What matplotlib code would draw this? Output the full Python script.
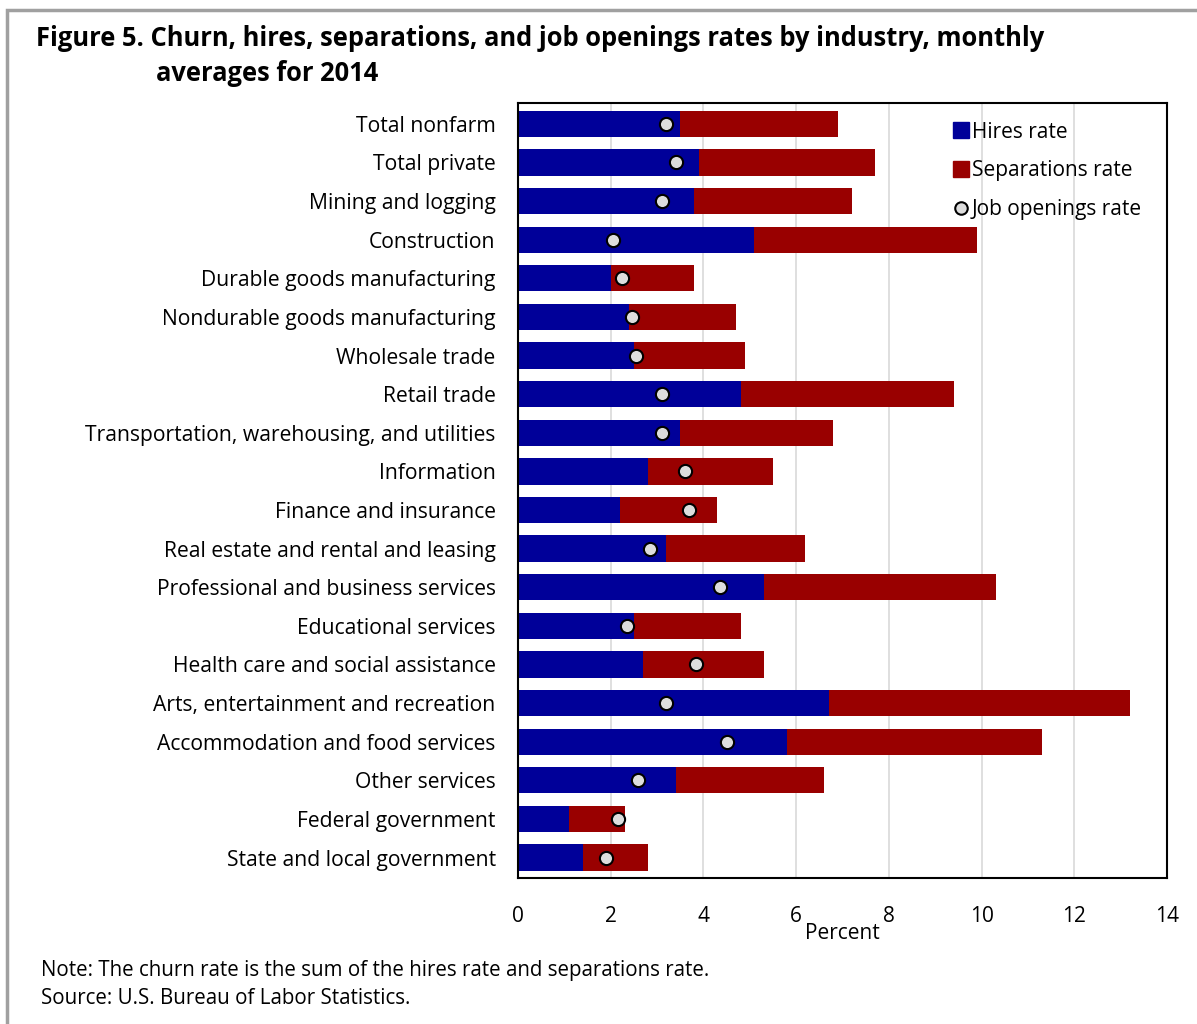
import matplotlib
matplotlib.use('Agg')
import matplotlib.pyplot as plt
from matplotlib.patches import Rectangle
from matplotlib.lines import Line2D
import numpy as np

industries = [
    'Total nonfarm', 'Total private', 'Mining and logging', 'Construction',
    'Durable goods manufacturing', 'Nondurable goods manufacturing',
    'Wholesale trade', 'Retail trade',
    'Transportation, warehousing, and utilities', 'Information',
    'Finance and insurance', 'Real estate and rental and leasing',
    'Professional and business services', 'Educational services',
    'Health care and social assistance', 'Arts, entertainment and recreation',
    'Accommodation and food services', 'Other services',
    'Federal government', 'State and local government',
]
hires = [3.5, 3.9, 3.8, 5.1, 2.0, 2.4, 2.5, 4.8, 3.5, 2.8,
         2.2, 3.2, 5.3, 2.5, 2.7, 6.7, 5.8, 3.4, 1.1, 1.4]
separations = [3.4, 3.8, 3.4, 4.8, 1.8, 2.3, 2.4, 4.6, 3.3, 2.7,
               2.1, 3.0, 5.0, 2.3, 2.6, 6.5, 5.5, 3.2, 1.2, 1.4]
openings = [3.2, 3.4, 3.1, 2.05, 2.25, 2.45, 2.55, 3.1, 3.1, 3.6,
            3.7, 2.85, 4.35, 2.35, 3.85, 3.2, 4.5, 2.6, 2.15, 1.9]

blue = '#000099'
red = '#990000'
plt.rcParams['font.family'] = ['Open Sans', 'DejaVu Sans']

fig = plt.figure(figsize=(11.97, 10.24), dpi=100)
fig.patches.append(Rectangle((0.006, -0.01), 1.1, 1.0, transform=fig.transFigure,
                             fill=False, edgecolor='#a0a0a0', linewidth=2.5))
ax = fig.add_axes([0.4327, 0.1426, 0.5423, 0.7568])

y = np.arange(len(industries))
ax.barh(y, hires, height=0.68, color=blue, label='Hires rate', zorder=2)
ax.barh(y, separations, left=hires, height=0.68, color=red,
        label='Separations rate', zorder=2)
ax.scatter(openings, y, s=90, facecolor='#dddddd', edgecolor='black',
           linewidth=1.5, zorder=3, label='Job openings rate')

ax.set_xlim(0, 14)
ax.set_ylim(len(industries) - 0.47, -0.54)
ax.set_xticks(np.arange(0, 15, 2))
ax.set_yticks(y)
ax.set_yticklabels(industries, fontsize=15.2)
ax.tick_params(axis='x', labelsize=15, length=0, pad=20)
ax.tick_params(axis='y', length=0, pad=16)
ax.grid(axis='x', color='#d9d9d9', linewidth=1.2, zorder=0)
ax.set_axisbelow(True)
for s in ax.spines.values():
    s.set_linewidth(1.5)
ax.set_xlabel('Percent', fontsize=15, labelpad=-3)

handles = [
    Line2D([], [], marker='s', linestyle='', markersize=11,
           markerfacecolor=blue, markeredgecolor=blue),
    Line2D([], [], marker='s', linestyle='', markersize=11,
           markerfacecolor=red, markeredgecolor=red),
    Line2D([], [], marker='o', linestyle='', markersize=9,
           markerfacecolor='#dddddd', markeredgecolor='black', markeredgewidth=1.5),
]
ax.legend(handles, ['Hires rate', 'Separations rate', 'Job openings rate'],
          loc='upper right', bbox_to_anchor=(0.99, 1.0), frameon=False,
          fontsize=15, handletextpad=0.0, labelspacing=0.85,
          handlelength=1.0, borderaxespad=0.5)

fig.text(0.03, 0.962, 'Figure 5. Churn, hires, separations, and job openings rates by industry, monthly',
         fontsize=18.4, fontweight='bold', va='center')
fig.text(0.13, 0.928, 'averages for 2014', fontsize=18.4, fontweight='bold', va='center')
fig.text(0.034, 0.052, 'Note: The churn rate is the sum of the hires rate and separations rate.',
         fontsize=14.8, va='center')
fig.text(0.034, 0.025, 'Source: U.S. Bureau of Labor Statistics.', fontsize=14.8, va='center')

fig.savefig('out.png', dpi=100)
